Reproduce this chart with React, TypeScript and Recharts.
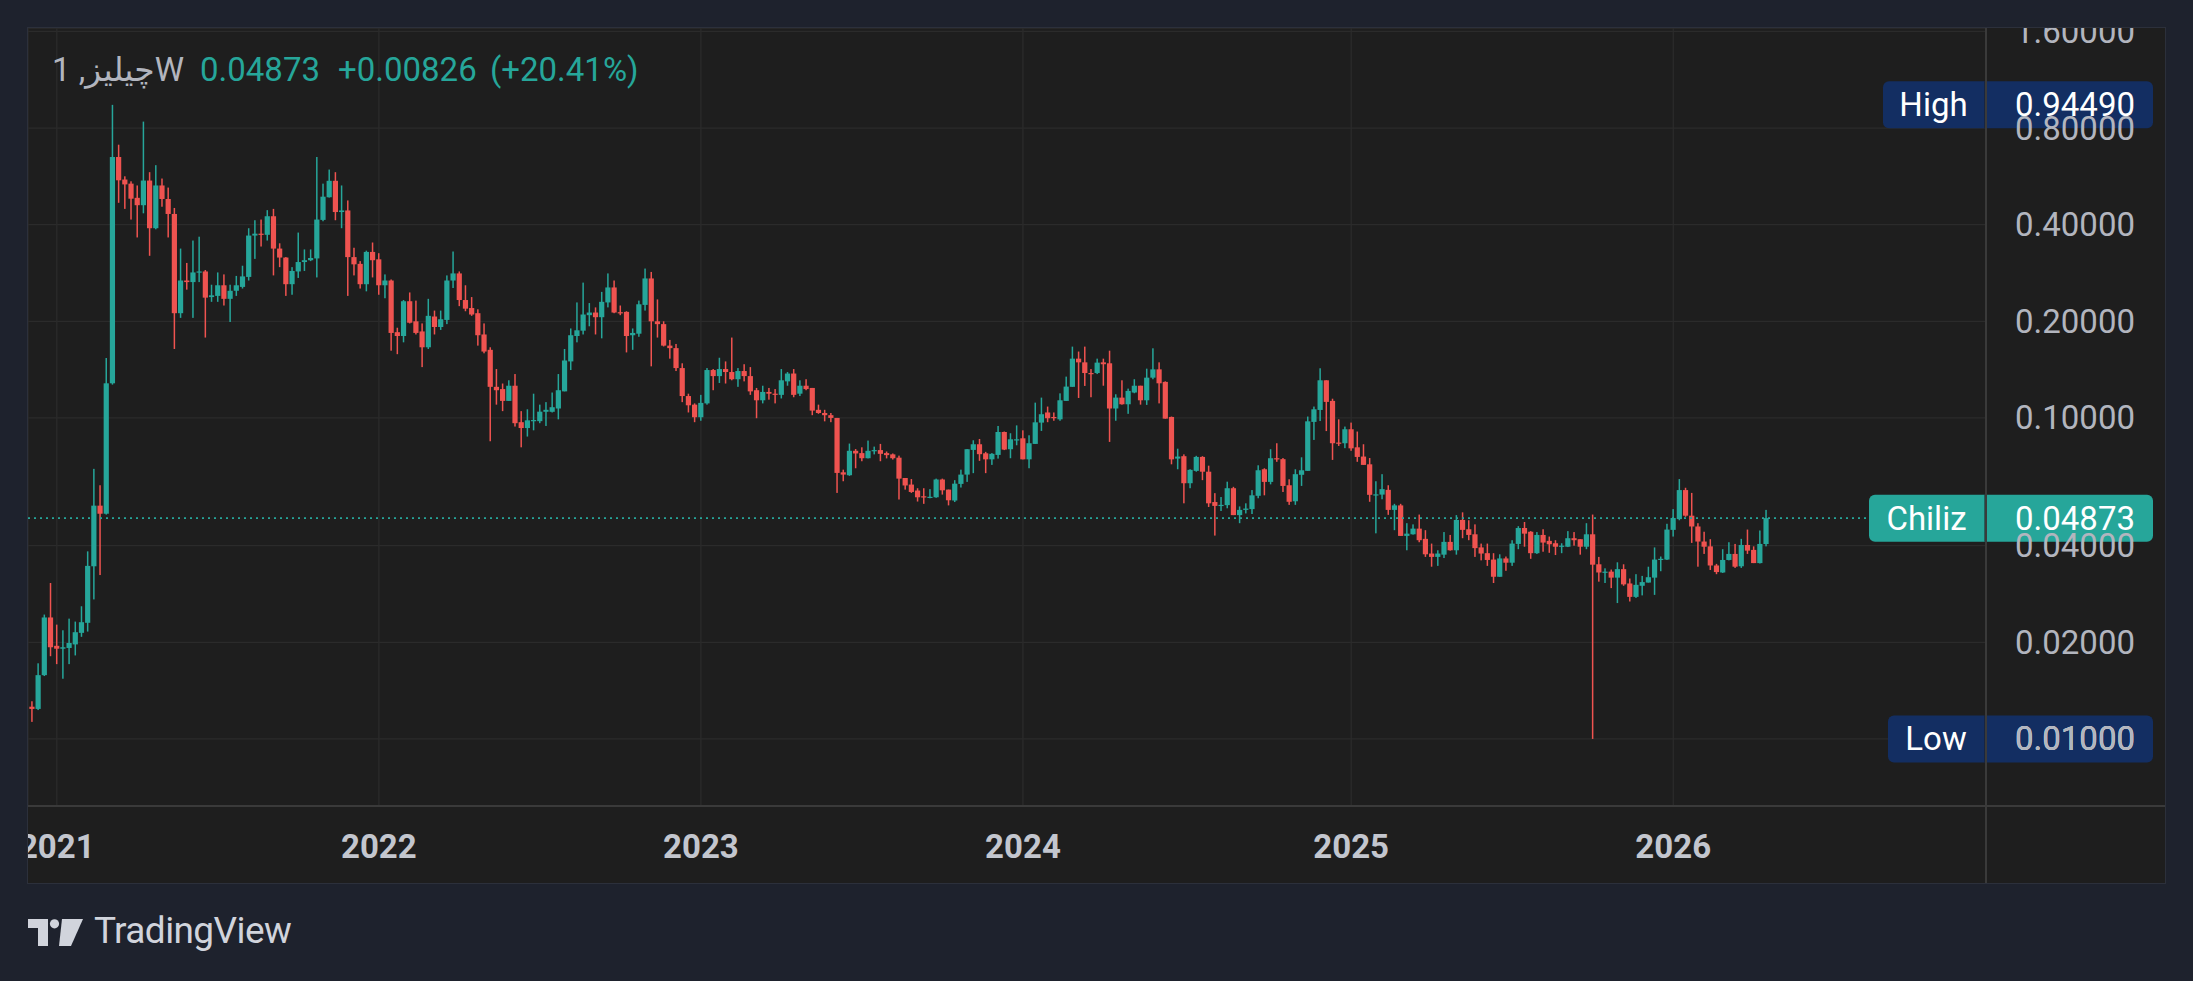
import {
  ComposedChart,
  Bar,
  XAxis,
  YAxis,
  CartesianGrid,
  ReferenceLine,
} from "recharts";

// weekly candles, [open, high, low, close], first week starts 2020-12-07
type Ohlc = [number, number, number, number];

const FIRST_WEEK = Date.UTC(2020, 11, 7);
const WEEK = 7 * 24 * 3600 * 1000;

const weeks2020: Ohlc[] = [
  [0.0126, 0.0131, 0.0113, 0.0124], [0.0124, 0.0172, 0.0123, 0.0158],
  [0.0158, 0.0244, 0.0157, 0.0239], [0.0239, 0.0306, 0.0181, 0.0193],
];

const weeks2021: Ohlc[] = [
  [0.0195, 0.0227, 0.0171, 0.0191], [0.0191, 0.0218, 0.0154, 0.0193],
  [0.0192, 0.0237, 0.0171, 0.0199], [0.0197, 0.0232, 0.0182, 0.0215],
  [0.0214, 0.0259, 0.0208, 0.0231], [0.023, 0.0384, 0.0216, 0.0346],
  [0.0345, 0.0694, 0.0272, 0.0533], [0.0533, 0.0617, 0.0324, 0.0503],
  [0.0503, 0.1537, 0.05, 0.1282], [0.1282, 0.9449, 0.127, 0.65],
  [0.65, 0.71, 0.468, 0.55], [0.553, 0.566, 0.448, 0.534],
  [0.537, 0.546, 0.415, 0.482], [0.485, 0.53, 0.365, 0.46],
  [0.46, 0.838, 0.434, 0.549], [0.549, 0.583, 0.32, 0.39],
  [0.39, 0.613, 0.387, 0.53], [0.53, 0.557, 0.455, 0.481],
  [0.481, 0.522, 0.365, 0.432], [0.432, 0.451, 0.164, 0.212],
  [0.212, 0.337, 0.205, 0.268], [0.268, 0.304, 0.251, 0.265],
  [0.265, 0.357, 0.205, 0.284], [0.284, 0.367, 0.265, 0.286],
  [0.286, 0.289, 0.178, 0.237], [0.238, 0.26, 0.23, 0.241],
  [0.24, 0.284, 0.23, 0.259], [0.259, 0.28, 0.224, 0.235],
  [0.235, 0.26, 0.199, 0.249], [0.249, 0.277, 0.24, 0.259],
  [0.256, 0.298, 0.253, 0.276], [0.275, 0.39, 0.268, 0.37],
  [0.37, 0.413, 0.313, 0.375], [0.375, 0.415, 0.342, 0.372],
  [0.372, 0.444, 0.357, 0.425], [0.425, 0.448, 0.278, 0.337],
  [0.337, 0.35, 0.295, 0.316], [0.316, 0.317, 0.24, 0.261],
  [0.261, 0.295, 0.242, 0.287], [0.286, 0.378, 0.273, 0.306],
  [0.306, 0.335, 0.287, 0.31], [0.31, 0.335, 0.308, 0.315],
  [0.314, 0.65, 0.274, 0.415], [0.414, 0.537, 0.41, 0.489],
  [0.487, 0.594, 0.486, 0.548], [0.548, 0.583, 0.413, 0.438],
  [0.438, 0.53, 0.39, 0.443], [0.443, 0.476, 0.24, 0.317],
  [0.317, 0.339, 0.278, 0.301], [0.302, 0.308, 0.253, 0.261],
  [0.261, 0.332, 0.248, 0.329], [0.329, 0.352, 0.274, 0.31],
];

const weeks2022: Ohlc[] = [
  [0.312, 0.326, 0.242, 0.259], [0.259, 0.28, 0.236, 0.268],
  [0.268, 0.27, 0.162, 0.184], [0.185, 0.191, 0.158, 0.18],
  [0.18, 0.233, 0.172, 0.231], [0.231, 0.246, 0.197, 0.198],
  [0.2, 0.232, 0.182, 0.184], [0.186, 0.197, 0.144, 0.166],
  [0.166, 0.235, 0.164, 0.208], [0.207, 0.216, 0.182, 0.192],
  [0.192, 0.216, 0.188, 0.203], [0.202, 0.278, 0.196, 0.268],
  [0.268, 0.33, 0.254, 0.282], [0.282, 0.286, 0.223, 0.233],
  [0.233, 0.259, 0.215, 0.219], [0.22, 0.238, 0.208, 0.21],
  [0.212, 0.218, 0.168, 0.181], [0.182, 0.197, 0.159, 0.161],
  [0.163, 0.166, 0.0846, 0.125], [0.125, 0.142, 0.11, 0.122],
  [0.123, 0.128, 0.105, 0.113], [0.113, 0.131, 0.113, 0.126],
  [0.126, 0.137, 0.094, 0.0963], [0.097, 0.105, 0.081, 0.093],
  [0.093, 0.1064, 0.0875, 0.0983], [0.098, 0.119, 0.0915, 0.0985],
  [0.0977, 0.11, 0.0963, 0.1046], [0.1045, 0.112, 0.0944, 0.106],
  [0.1045, 0.12, 0.104, 0.108], [0.107, 0.137, 0.099, 0.122],
  [0.121, 0.164, 0.121, 0.151], [0.15, 0.19, 0.141, 0.181],
  [0.18, 0.229, 0.172, 0.1875], [0.187, 0.264, 0.182, 0.21],
  [0.209, 0.228, 0.193, 0.213], [0.213, 0.221, 0.182, 0.206],
  [0.206, 0.247, 0.177, 0.23], [0.229, 0.282, 0.221, 0.255],
  [0.255, 0.268, 0.212, 0.213], [0.2135, 0.224, 0.209, 0.2128],
  [0.214, 0.215, 0.16, 0.18], [0.181, 0.19, 0.163, 0.184],
  [0.183, 0.232, 0.179, 0.226], [0.225, 0.292, 0.216, 0.272],
  [0.272, 0.285, 0.1448, 0.2], [0.2, 0.234, 0.178, 0.196],
  [0.196, 0.2, 0.167, 0.168], [0.168, 0.175, 0.153, 0.165],
  [0.165, 0.17, 0.14, 0.143], [0.143, 0.148, 0.112, 0.117],
  [0.117, 0.119, 0.104, 0.1095], [0.11, 0.111, 0.097, 0.1005],
];

const weeks2023: Ohlc[] = [
  [0.1005, 0.118, 0.098, 0.1114], [0.111, 0.143, 0.11, 0.141],
  [0.141, 0.142, 0.122, 0.135], [0.135, 0.154, 0.1285, 0.142],
  [0.142, 0.15, 0.128, 0.139], [0.139, 0.178, 0.131, 0.132],
  [0.132, 0.143, 0.125, 0.14], [0.14, 0.147, 0.13, 0.135],
  [0.135, 0.144, 0.118, 0.121], [0.122, 0.124, 0.0998, 0.1135],
  [0.1135, 0.126, 0.111, 0.1205], [0.1205, 0.124, 0.114, 0.119],
  [0.119, 0.123, 0.111, 0.118], [0.118, 0.142, 0.115, 0.131],
  [0.13, 0.139, 0.126, 0.1375], [0.1375, 0.142, 0.116, 0.118],
  [0.119, 0.131, 0.117, 0.126], [0.126, 0.132, 0.122, 0.123],
  [0.124, 0.124, 0.102, 0.1054], [0.106, 0.11, 0.103, 0.1036],
  [0.1036, 0.106, 0.0976, 0.102], [0.102, 0.1036, 0.097, 0.1],
  [0.1, 0.1, 0.0584, 0.0674], [0.0677, 0.069, 0.0635, 0.0666],
  [0.0663, 0.0832, 0.066, 0.079], [0.079, 0.08, 0.0697, 0.0775],
  [0.0777, 0.081, 0.0733, 0.0749], [0.0749, 0.085, 0.0748, 0.079],
  [0.0788, 0.0814, 0.077, 0.0794], [0.0794, 0.083, 0.0733, 0.0773],
  [0.0777, 0.0786, 0.0748, 0.0766], [0.077, 0.0775, 0.0742, 0.0749],
  [0.0752, 0.0763, 0.0557, 0.0647], [0.065, 0.065, 0.0598, 0.0616],
  [0.062, 0.0645, 0.0584, 0.0588], [0.0594, 0.0604, 0.0549, 0.0566],
  [0.057, 0.0604, 0.054, 0.0566], [0.0564, 0.06, 0.0562, 0.0568],
  [0.0566, 0.0647, 0.0564, 0.0643], [0.0643, 0.0647, 0.0577, 0.0595],
  [0.0598, 0.0598, 0.0534, 0.0554], [0.0553, 0.064, 0.0547, 0.0624],
  [0.0623, 0.069, 0.0607, 0.0666], [0.0666, 0.08, 0.0632, 0.0799],
  [0.0795, 0.0852, 0.0673, 0.0828], [0.0828, 0.086, 0.0735, 0.0771],
  [0.0776, 0.0784, 0.0673, 0.0743], [0.0743, 0.0777, 0.0714, 0.0773],
  [0.0767, 0.0944, 0.0747, 0.0904], [0.0904, 0.0907, 0.0794, 0.0797],
  [0.0799, 0.0896, 0.0749, 0.0858], [0.0854, 0.0948, 0.0822, 0.0858],
];

const weeks2024: Ohlc[] = [
  [0.0864, 0.0915, 0.0743, 0.0743], [0.0743, 0.0883, 0.0697, 0.0834],
  [0.083, 0.1116, 0.083, 0.0969], [0.0967, 0.1157, 0.0911, 0.1027],
  [0.104, 0.1085, 0.097, 0.0998], [0.1007, 0.104, 0.098, 0.0998],
  [0.099, 0.1193, 0.098, 0.1135], [0.113, 0.1345, 0.113, 0.1252],
  [0.125, 0.1668, 0.125, 0.153], [0.153, 0.161, 0.1154, 0.149],
  [0.149, 0.1668, 0.1258, 0.138], [0.138, 0.142, 0.116, 0.1375],
  [0.138, 0.153, 0.137, 0.1487], [0.149, 0.153, 0.126, 0.147],
  [0.148, 0.162, 0.0842, 0.107], [0.107, 0.1185, 0.098, 0.1157],
  [0.1157, 0.131, 0.11, 0.1103], [0.1103, 0.1234, 0.103, 0.1214],
  [0.12, 0.132, 0.1194, 0.126], [0.126, 0.126, 0.11, 0.1135],
  [0.1135, 0.1424, 0.1098, 0.1335], [0.1335, 0.1648, 0.132, 0.1417],
  [0.1417, 0.149, 0.111, 0.1282], [0.1295, 0.13, 0.0995, 0.0995],
  [0.1007, 0.101, 0.0717, 0.0743], [0.0747, 0.0802, 0.0692, 0.0758],
  [0.076, 0.077, 0.0542, 0.0626], [0.0626, 0.0692, 0.0604, 0.0689],
  [0.0684, 0.0762, 0.068, 0.0756], [0.0756, 0.076, 0.064, 0.068],
  [0.068, 0.071, 0.0528, 0.0542], [0.0547, 0.0583, 0.043, 0.0532],
  [0.0532, 0.0567, 0.0513, 0.0536], [0.0535, 0.0633, 0.0523, 0.0604],
  [0.0604, 0.061, 0.0498, 0.0498], [0.0498, 0.053, 0.047, 0.0517],
  [0.0517, 0.0542, 0.0504, 0.0522], [0.052, 0.0596, 0.0502, 0.0574],
  [0.0572, 0.0712, 0.0562, 0.0687], [0.0692, 0.0697, 0.0574, 0.0632],
  [0.0632, 0.0799, 0.0621, 0.0749], [0.0749, 0.0834, 0.073, 0.0744],
  [0.0744, 0.075, 0.0588, 0.0614], [0.0617, 0.0644, 0.0536, 0.0548],
  [0.055, 0.0692, 0.0536, 0.0668], [0.0665, 0.0754, 0.0614, 0.0687],
  [0.0684, 0.101, 0.0684, 0.0976], [0.0972, 0.1085, 0.0854, 0.1064],
  [0.1059, 0.1428, 0.0978, 0.131], [0.131, 0.131, 0.091, 0.1122],
  [0.113, 0.1148, 0.074, 0.0834], [0.0838, 0.099, 0.0818, 0.0832],
  [0.0834, 0.094, 0.0805, 0.0922],
];

const weeks2025: Ohlc[] = [
  [0.0922, 0.0967, 0.079, 0.0804], [0.081, 0.0907, 0.073, 0.0756],
  [0.0758, 0.0828, 0.0714, 0.0714], [0.0717, 0.075, 0.0548, 0.0576],
  [0.0575, 0.0635, 0.0437, 0.0578], [0.0577, 0.0668, 0.0558, 0.06],
  [0.0597, 0.0617, 0.0499, 0.0517], [0.0517, 0.054, 0.0447, 0.0534],
  [0.0534, 0.054, 0.0429, 0.0429], [0.0429, 0.047, 0.0387, 0.0436],
  [0.0434, 0.0466, 0.0433, 0.0452], [0.0452, 0.05, 0.041, 0.0416],
  [0.042, 0.0447, 0.0369, 0.0376], [0.0378, 0.0406, 0.0344, 0.0369],
  [0.0369, 0.0387, 0.0346, 0.0378], [0.0375, 0.0441, 0.0366, 0.0411],
  [0.0411, 0.0432, 0.0386, 0.0387], [0.0387, 0.0498, 0.0375, 0.0481],
  [0.0481, 0.0508, 0.0422, 0.0448], [0.045, 0.048, 0.0416, 0.0432],
  [0.0434, 0.0466, 0.0369, 0.0393], [0.0395, 0.0406, 0.036, 0.0378],
  [0.0379, 0.0406, 0.0346, 0.0361], [0.0362, 0.0379, 0.0306, 0.032],
  [0.032, 0.0376, 0.032, 0.0365], [0.0365, 0.037, 0.0334, 0.0354],
  [0.0354, 0.0416, 0.0346, 0.0406], [0.0405, 0.046, 0.039, 0.0454],
  [0.0454, 0.0474, 0.0397, 0.0436], [0.0442, 0.0444, 0.0364, 0.0379],
  [0.0379, 0.0441, 0.0377, 0.0432], [0.0432, 0.045, 0.0383, 0.0409],
  [0.0414, 0.0427, 0.038, 0.0404], [0.0407, 0.0416, 0.0374, 0.0397],
  [0.0397, 0.0407, 0.0379, 0.04], [0.0397, 0.0444, 0.0396, 0.0422],
  [0.0422, 0.0441, 0.04, 0.0416], [0.0419, 0.0419, 0.0375, 0.0397],
  [0.0397, 0.047, 0.039, 0.0434], [0.0434, 0.05, 0.01, 0.0349],
  [0.035, 0.0369, 0.0309, 0.033], [0.033, 0.034, 0.0306, 0.0332],
  [0.0332, 0.0337, 0.0295, 0.0318], [0.0318, 0.0355, 0.0265, 0.0338],
  [0.0338, 0.035, 0.03, 0.0303], [0.0305, 0.0316, 0.0268, 0.0277],
  [0.0277, 0.0326, 0.0275, 0.0302], [0.03, 0.0322, 0.028, 0.0308],
  [0.0307, 0.0344, 0.0307, 0.0319], [0.0318, 0.0395, 0.0281, 0.0362],
  [0.0362, 0.037, 0.0333, 0.0364], [0.0362, 0.0468, 0.0361, 0.0449],
];

const weeks2026: Ohlc[] = [
  [0.0448, 0.052, 0.0427, 0.0488], [0.0484, 0.0645, 0.048, 0.0596],
  [0.0596, 0.0606, 0.0492, 0.0496], [0.0496, 0.0584, 0.0408, 0.0459],
  [0.0459, 0.047, 0.0344, 0.0412], [0.0412, 0.0442, 0.0377, 0.0397],
  [0.0398, 0.0419, 0.0336, 0.0347], [0.0347, 0.0351, 0.0326, 0.0331],
  [0.033, 0.039, 0.0329, 0.0361], [0.0361, 0.041, 0.036, 0.0377],
  [0.0377, 0.0405, 0.0341, 0.0344], [0.0345, 0.042, 0.0341, 0.0402],
  [0.0402, 0.0449, 0.0377, 0.0386], [0.0388, 0.0398, 0.0353, 0.0353],
  [0.0353, 0.0446, 0.0352, 0.0405], [0.04047, 0.0517, 0.0398, 0.04873],
];

// first weekly bar of each year carries the year label
const yearLabels = ["2021", "2022", "2023", "2024", "2025", "2026"];
const yearFirstWeeks = [
  Date.UTC(2021, 0, 4),
  Date.UTC(2022, 0, 3),
  Date.UTC(2023, 0, 2),
  Date.UTC(2024, 0, 1),
  Date.UTC(2025, 0, 6),
  Date.UTC(2026, 0, 5),
];
const priceTicks = [0.01, 0.02, 0.04, 0.1, 0.2, 0.4, 0.8, 1.6];

const LAST_PRICE = 0.04873;
const CHANGE = "+0.00826";
const CHANGE_PCT = "(+20.41%)";
const ALL_TIME_HIGH = 0.9449;
const ALL_TIME_LOW = 0.01;

const UP = "#26a69a";
const DOWN = "#ef5350";
const AXIS_TEXT = "#b2b5be";
const TAG_BLUE = "#132e62";
const FONT = "Roboto, 'DejaVu Sans', sans-serif";

const candles = [
  ...weeks2020,
  ...weeks2021,
  ...weeks2022,
  ...weeks2023,
  ...weeks2024,
  ...weeks2025,
  ...weeks2026,
].map(([open, high, low, close], i) => ({
  t: FIRST_WEEK + i * WEEK,
  open,
  high,
  low,
  close,
  range: [low, high],
}));

const xDomain = [FIRST_WEEK - 0.65 * WEEK, FIRST_WEEK + 315.5 * WEEK];

function Candle(props: any) {
  const { x, y, width, height, payload } = props;
  if (x == null || !payload) return null;
  const cx = x + width / 2;
  const top = Math.min(y, y + height);
  const bottom = Math.max(y, y + height);
  const lh = Math.log(payload.high);
  const ll = Math.log(payload.low);
  // the axis is logarithmic, so open/close sit at their log share of the wick
  const toY = (v: number) =>
    lh === ll ? top : top + ((lh - Math.log(v)) / (lh - ll)) * (bottom - top);
  const yo = toY(payload.open);
  const yc = toY(payload.close);
  const color = payload.close >= payload.open ? UP : DOWN;
  return (
    <g>
      <rect x={cx - 0.75} y={top} width={1.5} height={Math.max(1, bottom - top)} fill={color} />
      <rect
        x={cx - 2.6}
        y={Math.min(yo, yc)}
        width={5.2}
        height={Math.max(1.2, Math.abs(yc - yo))}
        fill={color}
      />
    </g>
  );
}

function PriceTick(props: any) {
  const { x, y, payload } = props;
  return (
    <text
      x={x + 149}
      y={y}
      textAnchor="end"
      dominantBaseline="central"
      fill={AXIS_TEXT}
      fontSize={33}
      fontFamily={FONT}
    >
      {Number(payload.value).toFixed(5)}
    </text>
  );
}

function YearTick(props: any) {
  const { x, y, payload } = props;
  const i = yearFirstWeeks.indexOf(payload.value);
  return (
    <text
      x={x}
      y={y + 40}
      textAnchor="middle"
      dominantBaseline="central"
      fill="#c3c6ce"
      fontSize={33}
      fontWeight={700}
      fontFamily={FONT}
    >
      {yearLabels[i] ?? ""}
    </text>
  );
}

function priceTag(name: string, value: number, labelWidth: number, color: string) {
  return (props: any) => {
    const vb = props.viewBox;
    if (!vb) return null;
    const axisX = vb.x + vb.width;
    const h = 47;
    const top = vb.y - h / 2;
    return (
      <g>
        <rect x={axisX - labelWidth} y={top} width={labelWidth + 167} height={h} rx={6} fill={color} />
        <rect x={axisX - 1.5} y={top} width={1.5} height={h} fill="#1b1d22" />
        <text
          x={axisX - labelWidth / 2 - 1}
          y={vb.y}
          textAnchor="middle"
          dominantBaseline="central"
          fill="#ffffff"
          fontSize={33}
          fontFamily={FONT}
        >
          {name}
        </text>
        <text
          x={axisX + 149}
          y={vb.y}
          textAnchor="end"
          dominantBaseline="central"
          fill="#ffffff"
          fontSize={33}
          fontFamily={FONT}
        >
          {value.toFixed(5)}
        </text>
      </g>
    );
  };
}

function Logo() {
  return (
    <svg width={56} height={28} viewBox="0 0 56 28" style={{ display: "block" }}>
      <path d="M0 0 H20 V27 H10 V9 H0 Z" fill="#d1d4dc" />
      <circle cx={26.5} cy={4.8} r={4.6} fill="#d1d4dc" />
      <path d="M34 0 H55 L43 27 H31 Z" fill="#d1d4dc" />
    </svg>
  );
}

export default function App() {
  return (
    <div
      style={{
        position: "fixed",
        left: 0,
        top: 0,
        width: 2193,
        height: 981,
        background: "#1e222d",
        fontFamily: FONT,
      }}
    >
      <div
        style={{
          position: "absolute",
          left: 27,
          top: 27,
          width: 2137,
          height: 855,
          border: "1px solid #2c303b",
          background: "#1e1e1e",
          overflow: "hidden",
        }}
      >
        <ComposedChart
          width={2137}
          height={855}
          data={candles}
          margin={{ top: 0, right: 0, bottom: 0, left: 0 }}
        >
          <CartesianGrid stroke="#2b2b2b" strokeWidth={1.3} />
          <XAxis
            dataKey="t"
            type="number"
            domain={xDomain}
            allowDataOverflow
            ticks={yearFirstWeeks}
            interval={0}
            height={77}
            tickSize={0}
            tickMargin={0}
            tickLine={false}
            axisLine={{ stroke: "#3a3a3a", strokeWidth: 2 }}
            tick={<YearTick />}
          />
          <YAxis
            orientation="right"
            scale="log"
            domain={[0.00618, 1.64]}
            allowDataOverflow
            ticks={priceTicks}
            interval={0}
            width={179}
            tickSize={0}
            tickMargin={0}
            tickLine={false}
            axisLine={{ stroke: "#3a3a3a", strokeWidth: 2 }}
            tick={<PriceTick />}
          />
          <Bar
            dataKey="range"
            barSize={6}
            shape={<Candle />}
            isAnimationActive={false}
          />
          <ReferenceLine
            y={LAST_PRICE}
            stroke={UP}
            strokeWidth={1.6}
            strokeDasharray="2 4"
          />
          <ReferenceLine
            y={ALL_TIME_HIGH}
            stroke="none"
            label={priceTag("High", ALL_TIME_HIGH, 103, TAG_BLUE)}
          />
          <ReferenceLine
            y={LAST_PRICE}
            stroke="none"
            label={priceTag("Chiliz", LAST_PRICE, 117, UP)}
          />
          <ReferenceLine
            y={ALL_TIME_LOW}
            stroke="none"
            label={priceTag("Low", ALL_TIME_LOW, 98, TAG_BLUE)}
          />
        </ComposedChart>
        {/* separator lines under the price scale */}
        <div style={{ position: "absolute", left: 1957, top: 777, width: 180, height: 2, background: "#3a3a3a" }} />
        <div style={{ position: "absolute", left: 1957, top: 778, width: 2, height: 77, background: "#3a3a3a" }} />
      </div>

      {/* legend line */}
      <div style={{ position: "absolute", left: 52, top: 53, fontSize: 33, lineHeight: "33px", color: AXIS_TEXT, whiteSpace: "nowrap" }}>
        <span style={{ unicodeBidi: "isolate" }}>1 ,</span>
        <bdi>چیلیز</bdi>
        <span style={{ unicodeBidi: "isolate" }}>W</span>
      </div>
      <div style={{ position: "absolute", left: 200, top: 53, fontSize: 33, lineHeight: "33px", color: UP }}>
        {LAST_PRICE.toFixed(5)}
      </div>
      <div style={{ position: "absolute", left: 338, top: 53, fontSize: 33, lineHeight: "33px", color: UP }}>
        {CHANGE}
      </div>
      <div style={{ position: "absolute", left: 490, top: 53, fontSize: 33, lineHeight: "33px", color: UP }}>
        {CHANGE_PCT}
      </div>

      {/* watermark */}
      <div style={{ position: "absolute", left: 28, top: 916, display: "flex", alignItems: "center", gap: 10 }}>
        <Logo />
        <span style={{ fontSize: 37, lineHeight: "37px", color: "#d1d4dc", letterSpacing: -0.6, marginTop: -4 }}>
          TradingView
        </span>
      </div>
    </div>
  );
}
